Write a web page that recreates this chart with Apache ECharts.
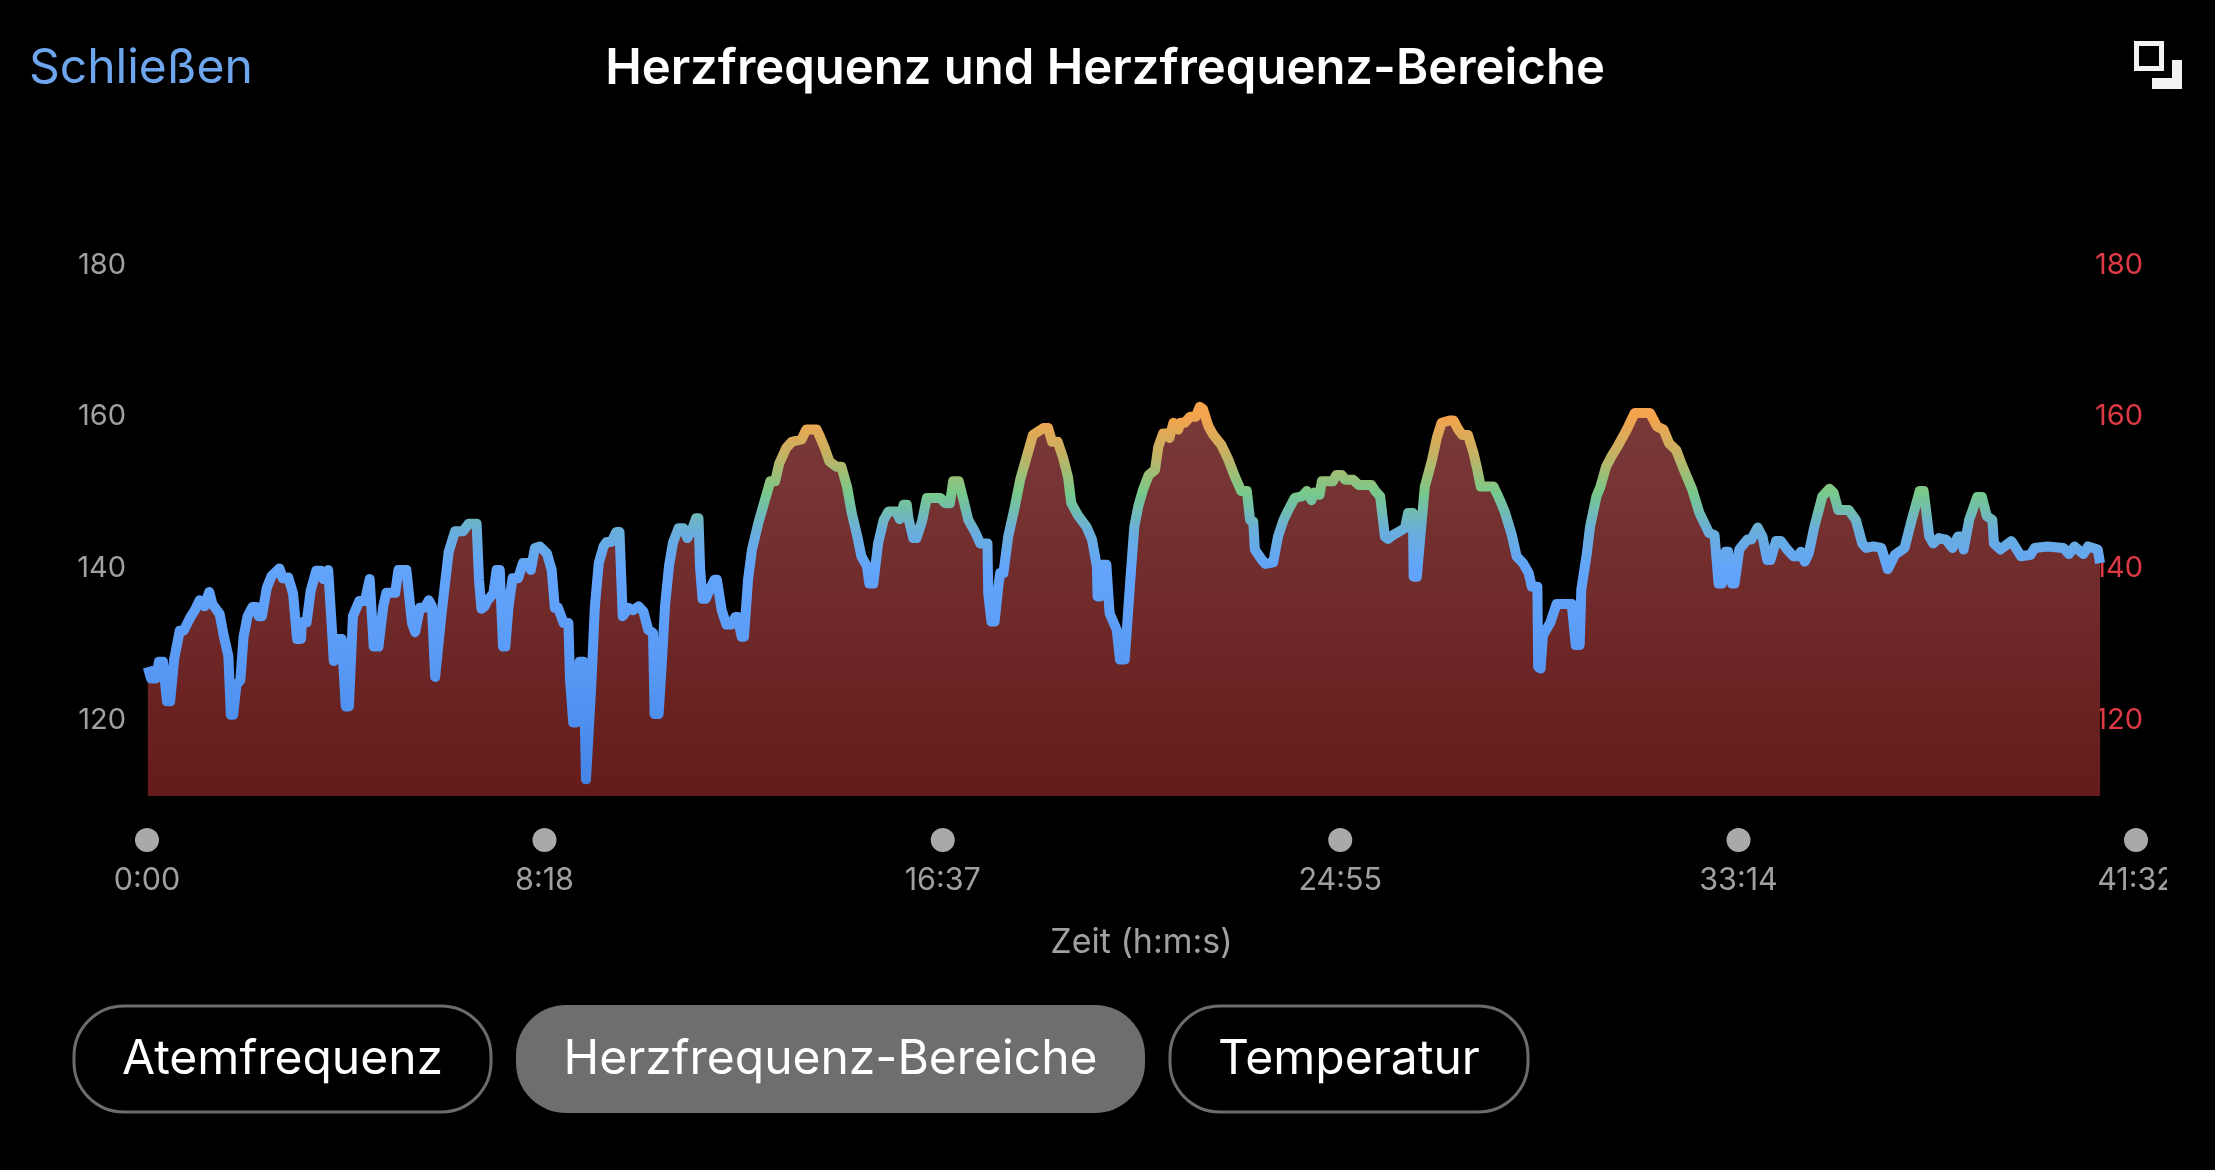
<!DOCTYPE html>
<html><head><meta charset="utf-8">
<style>html,body{margin:0;padding:0;background:#000}#c{width:2215px;height:1170px}</style>
<script src="https://cdn.jsdelivr.net/npm/echarts@6/dist/echarts.min.js"></script>
</head><body><div id="c"></div>
<script>
const titleText = 'Herzfrequenz und Herzfrequenz-Bereiche';
const closeText = 'Schließen';
const xAxisName = 'Zeit (h:m:s)';
const buttons = ['Atemfrequenz', 'Herzfrequenz-Bereiche', 'Temperatur'];
const yTicks = [120, 140, 160, 180];
const xTickSeconds = [0, 498, 997, 1495, 1994, 2492];
const xTickLabels = ['0:00', '8:18', '16:37', '24:55', '33:14', '41:32'];
const timeSec = [1,5,11,15,20,25,29,34,41,46,54,60,66,72,78,82,91,96,102,105,108,112,117,121,126,132,137,140,144,150,156,166,170,177,183,188,193,194,200,205,212,218,221,227,231,234,238,244,249,253,258,266,273,279,284,290,296,300,311,315,325,332,336,342,348,353,357,361,363,369,378,386,396,403,413,416,419,423,426,434,438,442,446,449,453,458,465,471,479,481,486,492,501,507,511,515,522,528,530,534,538,542,547,550,557,561,566,572,576,582,588,592,596,
603,609,616,622,628,634,636,641,645,649,654,659,666,672,677,682,688,691,693,696,700,705,711,714,720,726,732,737,740,745,748,753,758,766,772,781,787,792,801,808,820,826,839,843,849,855,864,870,877,883,890,895,902,905,910,916,923,929,939,943,948,952,954,960,964,971,977,987,994,1000,1006,1010,1017,1023,1029,1037,1044,1053,1054,1058,1062,1067,1069,1073,1079,1087,1094,1104,1110,1123,1129,1134,1141,1148,1154,1158,1167,1177,1184,1190,1191,1194,1197,1202,1206,
1215,1219,1225,1232,1237,1242,1248,1255,1263,1267,1273,1277,1281,1286,1292,1295,1300,1307,1314,1319,1323,1330,1336,1346,1355,1363,1371,1378,1382,1386,1388,1397,1401,1411,1417,1424,1430,1438,1447,1453,1459,1462,1469,1472,1486,1490,1497,1501,1511,1518,1534,1539,1545,1551,1555,1561,1576,1580,1586,1587,1591,1595,1601,1610,1616,1622,1632,1637,1643,1648,1655,1662,1666,1671,1687,1693,1701,1710,1716,1724,1731,1735,1742,1743,1746,1749,1758,1766,1785,1790,1795,1797,1804,1808,1816,
1821,1828,1835,1842,1854,1864,1883,1892,1900,1907,1916,1924,1936,1945,1957,1964,1969,1973,1978,1981,1986,1989,1995,2005,2010,2018,2024,2030,2034,2041,2047,2055,2063,2069,2072,2077,2082,2089,2099,2108,2113,2119,2132,2141,2149,2154,2163,2173,2181,2190,2202,2211,2221,2226,2233,2238,2245,2254,2262,2269,2274,2276,2283,2293,2299,2305,2312,2314,2322,2336,2348,2360,2365,2381,2401,2408,2415,2417,2426,2432,2444,2447];
const heartRate = [127,125.5,125.5,127.7,127.7,122.5,122.5,128,131.8,131.8,133.5,134.5,135.8,135,136.9,135.3,134,131.2,128.4,120.7,120.7,124.6,125.3,131,133.7,134.9,134.9,133.7,133.7,137.4,139,140,138.7,138.8,136.7,130.7,130.7,132.9,132.9,137,139.7,139.7,138.6,139.8,133.2,127.8,130.7,130.7,121.8,121.8,133.7,135.7,135.7,138.6,129.7,129.7,135,136.8,136.8,139.8,139.8,132.8,131.6,134.8,134.8,135.8,135,125.7,125.7,134,142.2,144.9,144.9,145.9,145.9,138.5,134.7,135,135.7,136.7,139.8,139.8,129.7,129.7,135,138.7,138.7,140.7,140.7,139.8,142.7,142.9,142,139.8,134.8,134.8,132.8,132.8,125.3,119.7,119.7,127.7,127.7,112.2,125.3,134.8,140.7,142.9,143.5,143.5,144.8,144.8,133.7,
134.8,134.5,135,134.3,131.9,131.5,120.8,120.8,127.5,135,140.3,143.4,145.3,145.3,144,144.9,146.6,146.6,140,136,136,137.2,138.5,138.5,134.5,132.6,132.6,133.6,133.6,131,131,138.5,142.5,146,148.2,151.5,151.5,153.8,155.9,156.7,157,158.3,158.3,157.4,155.9,154.1,153.4,153.4,150.8,147.3,144.2,141.6,140.3,138,138,143.3,146.4,147.5,147.5,146.5,148.4,148.4,146.6,144,144,146.2,149.3,149.3,149.3,148.6,148.6,151.5,151.5,149,146.4,144.9,143.3,143.3,136.7,133,133,138,139.4,139.4,144.2,148,151.7,155.4,157.6,158.5,158.5,156.7,156.7,154.5,152,148.6,146.9,145.5,143.8,140.3,136.3,136.3,140.5,140.5,134.1,
131.9,128,128,138.5,145.5,148.2,150.4,152.3,153,156,157.8,157.8,157.2,159.2,158.3,159.2,159.2,160,160,161.3,161,158.7,157.6,156.3,154.3,152.1,150.2,150.2,146.4,146.2,142.5,141.1,140.6,140.8,144.2,146.4,147.7,149.3,149.5,150.2,149,150,149.7,151.5,151.5,152.3,152.3,151.7,151.7,151,151,150.2,149.5,144.2,143.9,144.4,145.3,147.3,147.3,138.9,138.9,143.8,150.8,154.3,157.2,159.2,159.5,159.5,158.3,157.6,157.6,155.2,153.4,150.8,150.8,149.5,147.5,144.4,141.6,140.7,139.4,137.6,137.6,127,126.8,131.2,132.8,135.3,135.3,129.9,129.9,137.2,142,145.5,149.5,
150.8,153.4,154.8,156,158.3,160.5,160.5,158.7,158.3,156.5,155.6,153.4,150.4,147.3,144.7,144.4,138,138,142.2,142.2,138,138,142.5,143.8,143.8,145.4,144.2,141.1,141.1,143.6,143.6,142.5,141.6,141.6,142.2,140.9,142,145.5,149.5,150.5,150,147.7,147.7,146.4,143.3,142.7,142.9,142.7,139.9,141.8,142.7,146.4,150.2,150.2,144.2,143.3,144,143.8,142.7,144.2,144.2,142.5,146.4,149.4,149.4,146.9,146.4,143.3,142.5,143.6,141.6,141.8,142.7,142.9,142.7,141.9,142.9,143,141.9,142.9,142.5,140.7];

const FONT = 'Inter, "Noto Sans", sans-serif';
const GREY = '#a0a0a0';
const chart = echarts.init(document.getElementById('c'), null, {renderer: 'canvas'});
const hrData = timeSec.map((t, i) => [t, heartRate[i]]);
const dotData = xTickSeconds.map(t => [t, 0]);
const xFmt = v => { const i = xTickSeconds.indexOf(v); return i >= 0 ? xTickLabels[i] : ''; };

const btnBoxes = [[74, 1006, 417, 106, false], [516, 1005, 629, 108, true], [1170, 1006, 358, 106, false]];
const graphics = [];
btnBoxes.forEach((b, i) => {
  graphics.push({type: 'rect', z: 5, shape: {x: b[0], y: b[1], width: b[2], height: b[3], r: 50},
    style: b[4] ? {fill: '#6e6e6e'} : {fill: '#000', stroke: '#6c6c6c', lineWidth: 3}});
  graphics.push({type: 'text', z: 6, x: b[0] + b[2] / 2, y: 1060,
    style: {text: buttons[i], fill: '#fff', font: '400 48px ' + FONT, textAlign: 'center', textVerticalAlign: 'middle'}});
});
graphics.push(
  {type: 'text', z: 6, x: 29, y: 69, style: {text: closeText, fill: '#6ea6ee', font: '400 48px ' + FONT, textAlign: 'left', textVerticalAlign: 'middle'}},
  {type: 'text', z: 6, x: 1105, y: 69, style: {text: titleText, fill: '#fff', font: '600 49px ' + FONT, textAlign: 'center', textVerticalAlign: 'middle'}},
  {type: 'rect', z: 6, shape: {x: 2136.5, y: 43.5, width: 25, height: 25}, style: {fill: 'none', stroke: '#f2f2f2', lineWidth: 5}},
  {type: 'polygon', z: 6, shape: {points: [[2172, 60], [2182, 60], [2182, 89], [2152, 89], [2152, 78], [2172, 78]]}, style: {fill: '#f2f2f2'}},
  {type: 'rect', z: 50, shape: {x: 2167, y: 855, width: 48, height: 50}, style: {fill: '#000'}}
);

const yAxisBase = {type: 'value', gridIndex: 0, min: 110, max: 180, axisLine: {show: false}, axisTick: {show: false}, splitLine: {show: false}};
chart.setOption({
  backgroundColor: '#000',
  animation: false,
  grid: [
    {left: 147, top: 265, width: 1989, height: 531},
    {left: 147, top: 839, width: 1989, height: 2}
  ],
  xAxis: [
    {type: 'value', gridIndex: 0, min: 0, max: 2492, axisLine: {show: false}, axisTick: {show: false}, axisLabel: {show: false}, splitLine: {show: false}},
    {type: 'value', gridIndex: 1, min: 0, max: 2492, axisLine: {show: false}, axisTick: {show: false}, splitLine: {show: false},
      axisLabel: {customValues: xTickSeconds, formatter: xFmt, color: GREY, fontFamily: FONT, fontSize: 30.5, margin: 24, showMinLabel: true, showMaxLabel: true, hideOverlap: false},
      name: xAxisName, nameLocation: 'middle', nameGap: 85, nameTextStyle: {color: GREY, fontFamily: FONT, fontSize: 34}}
  ],
  yAxis: [
    Object.assign({}, yAxisBase, {position: 'left', axisLabel: {customValues: yTicks, color: GREY, fontFamily: FONT, fontSize: 29, margin: 21, padding: [0, 0, 9, 0]}}),
    Object.assign({}, yAxisBase, {position: 'right', axisLabel: {customValues: yTicks, color: '#dd3a46', fontFamily: FONT, fontSize: 29, margin: 7, align: 'right', padding: [0, 0, 9, 0]}}),
    {type: 'value', gridIndex: 1, min: -1, max: 1, show: false}
  ],
  visualMap: {
    show: false, type: 'continuous', seriesIndex: 0, dimension: 1, min: 110, max: 160,
    inRange: {color: ['#4383e4', '#4889ea', '#4e90ee', '#5496f2', '#5a9cf6', '#5fa1f9', '#62a4fa', '#69aedb', '#78c98a', '#c4b263', '#f5a34d']}
  },
  series: [
    {type: 'line', xAxisIndex: 0, yAxisIndex: 0, data: hrData, showSymbol: false, smooth: false, z: 3,
      lineStyle: {width: 10, join: 'round'},
      areaStyle: {origin: 'start', opacity: 1, color: new echarts.graphic.LinearGradient(0, 0, 0, 1, [{offset: 0, color: '#7a3a3a'}, {offset: 1, color: '#651b19'}])}},
    {type: 'scatter', xAxisIndex: 1, yAxisIndex: 2, data: dotData, symbolSize: 24, clip: false, itemStyle: {color: '#a9a9a9', opacity: 1}}
  ],
  graphic: graphics
});
</script></body></html>
